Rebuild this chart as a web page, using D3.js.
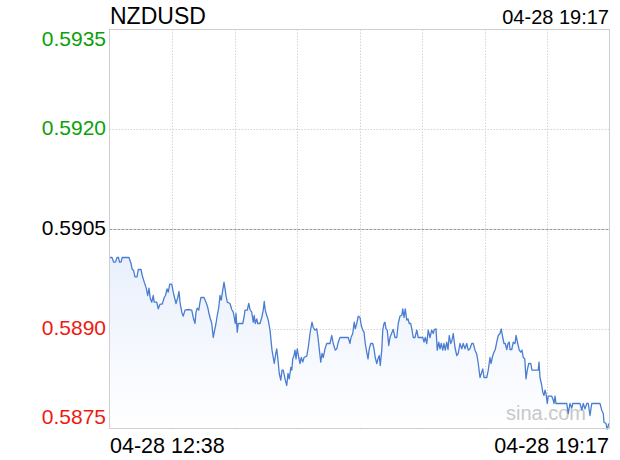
<!DOCTYPE html>
<html>
<head>
<meta charset="utf-8">
<script src="https://cdn.jsdelivr.net/npm/d3@7/dist/d3.min.js"></script>
<style>
  html, body { margin: 0; padding: 0; background: #fff; }
  svg { display: block; font-family: "Liberation Sans", Arial, Helvetica, sans-serif; }
</style>
</head>
<body>
<svg id="chart" width="620" height="460"></svg>
<script>
const symbol = "NZDUSD";
const stamp = "04-28 19:17";
const startLabel = "04-28 12:38";
const endLabel = "04-28 19:17";
const prevClose = 0.5905;
const yTicks = [0.5935, 0.5920, 0.5905, 0.5890, 0.5875];
const yTickLabels = ["0.5935", "0.5920", "0.5905", "0.5890", "0.5875"];

// minutes since 12:38
const times = [
  0, 2.0, 3.4, 4.8, 6.0, 7.2, 8.0, 9.2, 10.2, 15.6,
  17.2, 18.2, 19.2, 20.4, 22.0, 23.0, 25.2, 26.2, 27.8, 29.4,
  30.6, 31.6, 32.6, 33.8, 35.0, 35.8, 37.8, 39.0, 40.4, 42.2,
  43.8, 44.8, 46.0, 47.0, 48.2, 49.8, 51.0, 52.0, 53.2, 54.6,
  55.6, 56.4, 57.8, 59.0, 60.4, 63.0, 65.8, 67.0, 68.4, 69.2,
  70.2, 71.4, 72.4, 73.2, 75.6, 77.2, 78.6, 79.6, 80.4, 81.8,
  83.0, 83.8, 85.2, 86.2, 87.4, 88.4, 89.4, 90.6, 91.6, 92.6,
  93.2, 94.2, 96.4, 97.8, 99.0, 99.8, 100.6, 101.2, 102.2, 103.0,
  106.6, 107.6, 108.4, 110.2, 111.4, 112.4, 113.8, 115.0, 115.8, 116.6,
  117.8, 118.6, 120.4, 121.8, 123.0, 123.8, 124.6, 125.8, 127.0, 128.4,
  129.2, 130.0, 131.0, 131.8, 133.0, 133.8, 134.8, 135.8, 137.0, 138.0,
  139.0, 140.4, 141.8, 142.8, 143.8, 145.0, 145.8, 146.6, 147.6, 148.4,
  149.2, 150.2, 151.4, 152.4, 153.4, 154.6, 155.6, 157.8, 159.0, 160.4,
  162.0, 163.0, 164.4, 165.8, 166.8, 167.8, 169.0, 170.0, 171.0, 172.4,
  173.8, 176.4, 177.8, 179.0, 180.6, 181.8, 183.0, 184.4, 191.0, 192.4,
  193.2, 194.6, 195.8, 196.6, 197.8, 199.0, 200.4, 201.4, 202.6, 203.6,
  204.6, 205.8, 206.8, 207.8, 209.0, 210.6, 211.6, 212.6, 213.8, 214.8,
  215.8, 216.6, 217.8, 218.6, 219.6, 220.4, 221.2, 222.2, 223.4, 224.4,
  226.0, 227.0, 228.4, 229.8, 231.0, 232.4, 233.8, 234.6, 235.6, 236.6,
  237.8, 238.8, 239.8, 241.0, 242.0, 243.0, 244.4, 245.8, 247.0, 250.6,
  251.6, 252.6, 253.8, 255.0, 256.4, 257.8, 259.0, 259.8, 261.2, 262.2,
  263.4, 264.4, 265.4, 266.6, 267.6, 268.6, 269.8, 270.8, 271.8, 273.0,
  274.0, 275.0, 276.4, 277.8, 279.0, 280.4, 281.8, 283.0, 284.4, 285.8,
  287.0, 288.4, 289.8, 291.0, 292.4, 293.8, 295.0, 296.4, 298.6, 299.6,
  301.8, 303.0, 304.4, 305.2, 306.6, 307.6, 308.6, 309.8, 311.0, 312.4,
  313.4, 314.6, 315.6, 316.6, 317.8, 318.8, 319.8, 320.4, 321.8, 323.0,
  324.4, 325.2, 326.6, 327.8, 329.0, 330.0, 331.0, 332.2, 333.2, 334.2,
  335.4, 337.0, 338.0, 343.0, 343.6, 344.4, 345.8, 346.6, 347.6, 348.4,
  349.2, 350.2, 351.0, 353.8, 355.0, 355.6, 356.4, 357.2, 365.8, 367.0,
  368.4, 369.8, 370.6, 376.4, 377.8, 379.0, 380.4, 381.8, 383.0, 384.4,
  385.8, 392.4, 393.8, 395.0, 395.6, 397.2, 398.2, 399.4
];

const prices = [
  0.59008, 0.59008, 0.59001, 0.59001, 0.59008, 0.59008, 0.59001, 0.59001, 0.59008, 0.59008,
  0.58999, 0.58990, 0.58989, 0.58979, 0.58979, 0.58990, 0.58990, 0.58981, 0.58971, 0.58962,
  0.58951, 0.58962, 0.58947, 0.58941, 0.58951, 0.58941, 0.58941, 0.58931, 0.58938, 0.58938,
  0.58948, 0.58951, 0.58961, 0.58956, 0.58968, 0.58968, 0.58956, 0.58948, 0.58939, 0.58948,
  0.58957, 0.58941, 0.58926, 0.58920, 0.58929, 0.58930, 0.58929, 0.58918, 0.58909, 0.58926,
  0.58932, 0.58929, 0.58941, 0.58948, 0.58948, 0.58941, 0.58933, 0.58924, 0.58918, 0.58909,
  0.58888, 0.58896, 0.58909, 0.58921, 0.58933, 0.58951, 0.58944, 0.58959, 0.58971, 0.58959,
  0.58951, 0.58941, 0.58939, 0.58930, 0.58926, 0.58918, 0.58909, 0.58924, 0.58896, 0.58909,
  0.58909, 0.58918, 0.58929, 0.58929, 0.58939, 0.58930, 0.58926, 0.58911, 0.58921, 0.58909,
  0.58916, 0.58909, 0.58909, 0.58918, 0.58929, 0.58942, 0.58929, 0.58921, 0.58914, 0.58899,
  0.58884, 0.58869, 0.58858, 0.58849, 0.58864, 0.58871, 0.58854, 0.58834, 0.58824, 0.58839,
  0.58839, 0.58826, 0.58816, 0.58834, 0.58826, 0.58843, 0.58839, 0.58856, 0.58861, 0.58869,
  0.58856, 0.58871, 0.58858, 0.58849, 0.58858, 0.58851, 0.58858, 0.58860, 0.58873, 0.58894,
  0.58911, 0.58903, 0.58899, 0.58901, 0.58888, 0.58871, 0.58851, 0.58864, 0.58858, 0.58871,
  0.58879, 0.58879, 0.58891, 0.58879, 0.58869, 0.58871, 0.58881, 0.58888, 0.58888, 0.58879,
  0.58888, 0.58894, 0.58911, 0.58901, 0.58909, 0.58920, 0.58918, 0.58906, 0.58899, 0.58896,
  0.58879, 0.58866, 0.58856, 0.58871, 0.58879, 0.58879, 0.58871, 0.58858, 0.58849, 0.58856,
  0.58861, 0.58846, 0.58869, 0.58899, 0.58909, 0.58911, 0.58901, 0.58899, 0.58876, 0.58888,
  0.58896, 0.58900, 0.58888, 0.58888, 0.58909, 0.58920, 0.58921, 0.58931, 0.58918, 0.58931,
  0.58914, 0.58916, 0.58909, 0.58909, 0.58899, 0.58888, 0.58888, 0.58899, 0.58888, 0.58888,
  0.58881, 0.58888, 0.58879, 0.58899, 0.58888, 0.58899, 0.58894, 0.58900, 0.58901, 0.58869,
  0.58881, 0.58871, 0.58879, 0.58869, 0.58879, 0.58869, 0.58881, 0.58870, 0.58891, 0.58879,
  0.58884, 0.58894, 0.58873, 0.58861, 0.58864, 0.58879, 0.58871, 0.58879, 0.58871, 0.58879,
  0.58869, 0.58871, 0.58879, 0.58879, 0.58869, 0.58863, 0.58849, 0.58828, 0.58841, 0.58828,
  0.58828, 0.58839, 0.58858, 0.58849, 0.58861, 0.58866, 0.58870, 0.58881, 0.58891, 0.58894,
  0.58901, 0.58888, 0.58879, 0.58879, 0.58870, 0.58879, 0.58881, 0.58870, 0.58870, 0.58881,
  0.58879, 0.58891, 0.58879, 0.58869, 0.58866, 0.58869, 0.58858, 0.58856, 0.58826, 0.58839,
  0.58849, 0.58849, 0.58839, 0.58839, 0.58851, 0.58828, 0.58816, 0.58806, 0.58801, 0.58809,
  0.58804, 0.58789, 0.58800, 0.58800, 0.58794, 0.58789, 0.58800, 0.58789, 0.58789, 0.58774,
  0.58789, 0.58782, 0.58789, 0.58789, 0.58779, 0.58789, 0.58781, 0.58789, 0.58789, 0.58771,
  0.58789, 0.58789, 0.58779, 0.58774, 0.58761, 0.58759, 0.58749, 0.58759
];

const data = times.map((t, i) => ({ t, p: prices[i] }));

const svg = d3.select("#chart");
const pL = 109.5, pR = 609.5, pT = 29.5, pB = 429.5;

const x = d3.scaleLinear().domain([0, 400]).range([pL, pR]);
const y = d3.scaleLinear().domain([0.5875, 0.5935]).range([pB, pT]);

// gradient for area
const defs = svg.append("defs");
const grad = defs.append("linearGradient")
  .attr("id", "areaGrad").attr("gradientUnits", "userSpaceOnUse")
  .attr("x1", 0).attr("x2", 0).attr("y1", y(d3.max(prices))).attr("y2", pB);
grad.append("stop").attr("offset", "0%").attr("stop-color", "#e9f0fc");
grad.append("stop").attr("offset", "100%").attr("stop-color", "#ffffff");
defs.append("clipPath").attr("id", "plotClip")
  .append("rect").attr("x", pL).attr("y", pT).attr("width", pR - pL).attr("height", pB - pT);

// vertical grid
const xGrid = x.ticks(8).filter(v => v > 0 && v < 400);
svg.append("g").selectAll("line").data(xGrid).join("line")
  .attr("x1", d => Math.round(x(d)) + 0.5).attr("x2", d => Math.round(x(d)) + 0.5)
  .attr("y1", pT).attr("y2", pB)
  .attr("stroke", "#d4d4d4").attr("stroke-width", 1).attr("stroke-dasharray", "1.5,1.5");

// horizontal grid
const hGrid = yTicks.filter(v => v !== yTicks[0] && v !== yTicks[yTicks.length - 1]);
svg.append("g").selectAll("line").data(hGrid).join("line")
  .attr("x1", pL).attr("x2", pR)
  .attr("y1", d => Math.round(y(d)) - 0.5).attr("y2", d => Math.round(y(d)) - 0.5)
  .attr("stroke", d => d === prevClose ? "#9a9a9a" : "#d4d4d4")
  .attr("stroke-width", 1)
  .attr("stroke-dasharray", d => d === prevClose ? "3,1" : "1.5,1.5");

// area
svg.append("g").attr("clip-path", "url(#plotClip)")
  .append("path").datum(data)
  .attr("d", d3.area().x(d => x(d.t)).y0(pB).y1(d => y(d.p)))
  .attr("fill", "url(#areaGrad)");

// watermark (above the fill, below the line)
svg.append("text").attr("x", 506).attr("y", 420)
  .attr("font-size", 20).attr("fill", "#c8c8c8").text("sina.com");

// line
svg.append("g").attr("clip-path", "url(#plotClip)")
  .append("path").datum(data)
  .attr("d", d3.line().x(d => x(d.t)).y(d => y(d.p)))
  .attr("fill", "none").attr("stroke", "#4a7dd2").attr("stroke-width", 1.3)
  .attr("stroke-linejoin", "round");

// border
svg.append("rect").attr("x", pL).attr("y", pT)
  .attr("width", pR - pL).attr("height", pB - pT - 1)
  .attr("fill", "none").attr("stroke", "#cfcfcf").attr("stroke-width", 1);

// y labels
svg.append("g").selectAll("text").data(yTicks).join("text")
  .attr("x", 106).attr("text-anchor", "end")
  .attr("y", (d, i) => y(d) + (i === 0 ? 16.5 : (i === yTicks.length - 1 ? -6 : 5.5)))
  .attr("font-size", 21)
  .attr("fill", d => d > prevClose ? "#0b9f0b" : (d < prevClose ? "#ee1a12" : "#000"))
  .text((d, i) => yTickLabels[i]);

// title and time stamps
svg.append("text").attr("x", 110).attr("y", 24).attr("font-size", 23).attr("fill", "#000").text(symbol);
svg.append("text").attr("x", 609).attr("y", 24).attr("text-anchor", "end").attr("font-size", 20).attr("fill", "#000").text(stamp);
svg.append("text").attr("x", 110).attr("y", 453).attr("font-size", 21.5).attr("fill", "#000").text(startLabel);
svg.append("text").attr("x", 609).attr("y", 453).attr("text-anchor", "end").attr("font-size", 21.5).attr("fill", "#000").text(endLabel);
</script>
</body>
</html>
